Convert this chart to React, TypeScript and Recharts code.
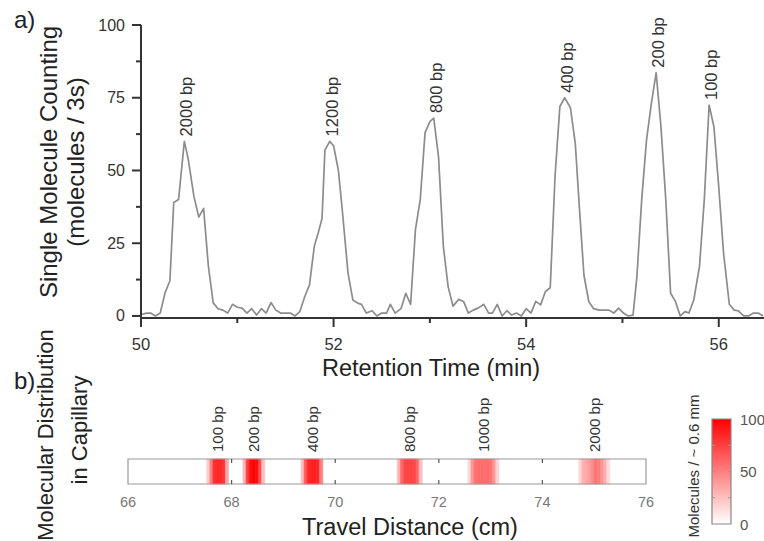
import React from "react";
import {
  LineChart,
  Line,
  XAxis,
  YAxis,
  LabelList,
  ComposedChart,
  ReferenceArea,
  Scatter,
  Bar,
} from "recharts";

const FONT = "'Liberation Sans', Arial, Helvetica, sans-serif";

// a) single molecule counts per 3 s
const retentionTime = [
  50.0, 50.06, 50.1, 50.15, 50.2, 50.25, 50.3, 50.34, 50.39, 50.45,
  50.49, 50.55, 50.6, 50.65, 50.7, 50.75, 50.8, 50.85, 50.9, 50.95,
  51.0, 51.05, 51.1, 51.15, 51.2, 51.25, 51.3, 51.35, 51.4, 51.45,
  51.5, 51.55, 51.6, 51.65, 51.7, 51.75, 51.8, 51.84, 51.88, 51.91,
  51.96, 52.0, 52.05, 52.09, 52.15, 52.2, 52.25, 52.29, 52.34, 52.4,
  52.45, 52.5, 52.55, 52.59, 52.64, 52.7, 52.75, 52.8, 52.85, 52.9,
  52.95, 53.0, 53.04, 53.09, 53.14, 53.19, 53.24, 53.3, 53.35, 53.4,
  53.45, 53.5, 53.56, 53.61, 53.65, 53.7, 53.75, 53.8, 53.85, 53.9,
  53.95, 54.0, 54.05, 54.1, 54.15, 54.2, 54.25, 54.3, 54.35, 54.4,
  54.46, 54.51, 54.55, 54.6, 54.65, 54.7, 54.76, 54.81, 54.86, 54.91,
  54.96, 55.01, 55.06, 55.11, 55.15, 55.2, 55.25, 55.3, 55.35, 55.4,
  55.45, 55.5, 55.55, 55.6, 55.65, 55.69, 55.74, 55.8, 55.85, 55.9,
  55.95, 56.0, 56.05, 56.11, 56.16, 56.2, 56.26, 56.31, 56.36, 56.41,
  56.46,
];
const moleculeCount = [
  0.5, 1, 1, 0, 1, 8, 12, 39, 40, 60,
  54, 41, 34, 37, 17, 4.5, 2.5, 2, 1, 4,
  3, 2.7, 1, 2.5, 0.3, 2.5, 1, 4.6, 2, 1,
  1, 1, 0, 1.5, 6.6, 10.7, 24, 28.5, 33.5, 57,
  60, 58.5, 50, 36.5, 14.7, 5.5, 4.4, 4, 1, 1.8,
  0, 1, 1, 4, 1, 2.5, 7.8, 4, 29.6, 40,
  63, 66.8, 68, 54.7, 23.8, 10, 3.4, 5.7, 5, 1,
  2, 2.7, 4, 1, 1, 4, 0, 1.8, 0.3, 1,
  0, 2.5, 1, 5, 3.8, 8.4, 9.7, 48, 72, 75,
  71.5, 59.3, 38.7, 14, 5, 2.5, 2, 2, 2, 1,
  2.7, 1, 0, 0.3, 13.5, 40, 60.5, 73, 83.6, 65,
  40, 7.8, 5, 0, 1.5, 1, 5.4, 17, 40, 72.5,
  65, 44.4, 21.6, 4, 2, 1.8, 0, 0, 1, 1,
  0,
];

const peakNames = ["2000 bp", "1200 bp", "800 bp", "400 bp", "200 bp", "100 bp"];
const peakTimes = [50.45, 51.96, 53.04, 54.4, 55.35, 55.9];

const timeTicks = [50, 51, 52, 53, 54, 55, 56];
const timeLabels = [50, 52, 54, 56];
const countTicks = [0, 12.5, 25, 37.5, 50, 62.5, 75, 87.5, 100];
const countLabels = [0, 25, 50, 75, 100];

// b) molecules per ~0.6 mm bin along the capillary
const BIN = 0.06;
const binStart = [
  67.52, 67.58, 67.64, 67.7, 67.76, 67.82, 67.88,
  68.22, 68.28, 68.34, 68.4, 68.46, 68.52, 68.58,
  69.34, 69.4, 69.46, 69.52, 69.58, 69.64, 69.7,
  71.2, 71.26, 71.32, 71.38, 71.44, 71.5, 71.56, 71.62,
  72.56, 72.62, 72.68, 72.74, 72.8, 72.86, 72.92, 72.98, 73.04, 73.1,
  74.7, 74.76, 74.82, 74.88, 74.94, 75.0, 75.06, 75.12, 75.18, 75.24,
];
const binCount = [
  20, 50, 80, 85, 85, 80, 35,
  30, 75, 95, 100, 95, 70, 25,
  25, 65, 85, 88, 88, 85, 50,
  30, 60, 72, 74, 74, 72, 60, 25,
  15, 40, 55, 58, 58, 58, 58, 55, 42, 18,
  15, 30, 35, 38, 45, 55, 52, 42, 32, 15,
];
const bandNames = ["100 bp", "200 bp", "400 bp", "800 bp", "1000 bp", "2000 bp"];
const bandCenters = [67.72, 68.43, 69.57, 71.44, 72.86, 75.0];
const distanceTicks = [66, 68, 70, 72, 74, 76];

// colour scale
const colorRange = [{ name: "scale", max: 100 }];
const colorTicks = [0, 25, 50, 75, 100];
const colorLabels = [0, 50, 100];

const traceRows = retentionTime.map((t, i) => ({
  t,
  count: moleculeCount[i],
  peak: peakNames[peakTimes.indexOf(t)],
}));
const bandRows = bandNames.map((name, i) => ({ x: bandCenters[i], y: 1, name }));

function countColor(v: number) {
  const c = Math.round(255 * (1 - v / 100));
  return `rgb(255,${c},${c})`;
}

const TimeTick = (props: any) => {
  const { x, y, payload } = props;
  const v = payload.value;
  const major = timeLabels.includes(v);
  const axisY = y - 20;
  return (
    <g>
      <line x1={x} x2={x} y1={axisY} y2={axisY + (major ? 9 : 5)} stroke="#333" strokeWidth={2} />
      {major && (
        <text x={x} y={y} dy="0.72em" textAnchor="middle" fontSize={16.5} fill="#333" fontFamily={FONT}>
          {v}
        </text>
      )}
    </g>
  );
};

const CountTick = (props: any) => {
  const { x, y, payload } = props;
  const v = payload.value;
  const major = countLabels.includes(v);
  const axisX = x + 16;
  return (
    <g>
      <line x1={axisX - (major ? 9 : 5)} x2={axisX} y1={y} y2={y} stroke="#333" strokeWidth={2} />
      {major && (
        <text x={x} y={y} textAnchor="end" dominantBaseline="central" fontSize={16} fill="#333" fontFamily={FONT}>
          {v}
        </text>
      )}
    </g>
  );
};

const PeakLabel = (props: any) => {
  const vb = props.viewBox || {};
  const x = props.x ?? vb.x;
  const y = props.y ?? vb.y;
  if (!props.value || x == null || y == null) return null;
  return (
    <text
      transform={`translate(${x + 2},${y - 5}) rotate(-90)`}
      textAnchor="start"
      dominantBaseline="central"
      fontSize={16.5}
      fill="#333"
      fontFamily={FONT}
    >
      {props.value}
    </text>
  );
};

const DistanceTick = (props: any) => {
  const { x, y, payload } = props;
  const v = payload.value;
  const axisY = y - 13;
  const inner = v !== 66 && v !== 76;
  return (
    <g>
      {inner && <line x1={x} x2={x} y1={axisY - 25} y2={axisY - 21} stroke="#555" strokeWidth={1.2} />}
      {inner && <line x1={x} x2={x} y1={axisY - 4} y2={axisY} stroke="#555" strokeWidth={1.2} />}
      <text x={x} y={y} dy="0.72em" textAnchor="middle" fontSize={14.5} fill="#777" fontFamily={FONT}>
        {v}
      </text>
    </g>
  );
};

const ColorTick = (props: any) => {
  const { x, y, payload } = props;
  const v = payload.value;
  const axisX = x - 9;
  const left = axisX - 19;
  const inner = v !== 0 && v !== 100;
  return (
    <g>
      {inner && <line x1={left} x2={left + 3} y1={y} y2={y} stroke="#999" />}
      {inner && <line x1={axisX - 3} x2={axisX} y1={y} y2={y} stroke="#999" />}
      {colorLabels.includes(v) && (
        <text x={x} y={y} textAnchor="start" dominantBaseline="central" fontSize={15} fill="#555" fontFamily={FONT}>
          {v}
        </text>
      )}
    </g>
  );
};

const BandLabel = (props: any) => {
  const { cx, cy, payload } = props;
  return (
    <text
      transform={`translate(${cx},${cy - 7}) rotate(-90)`}
      textAnchor="start"
      dominantBaseline="central"
      fontSize={15}
      fill="#333"
      fontFamily={FONT}
    >
      {payload.name}
    </text>
  );
};

export default function App() {
  return (
    <div
      style={{
        position: "absolute",
        left: 0,
        top: 0,
        width: 764,
        height: 541,
        background: "#fff",
        fontFamily: FONT,
        overflow: "hidden",
      }}
    >
      <div style={{ position: "absolute", left: 0, top: 0 }}>
        <LineChart width={764} height={395} data={traceRows} margin={{ top: 25, right: 0, left: 0, bottom: 0 }}>
          <XAxis
            dataKey="t"
            type="number"
            domain={[50, 56.47]}
            ticks={timeTicks}
            interval={0}
            height={77}
            tickSize={9}
            tickMargin={11}
            tickLine={false}
            axisLine={{ stroke: "#333", strokeWidth: 2 }}
            tick={TimeTick}
            label={{
              content: () => (
                <text x={431} y={376} textAnchor="middle" fontSize={23.5} fill="#222" fontFamily={FONT}>
                  Retention Time (min)
                </text>
              ),
            }}
          />
          <YAxis
            type="number"
            domain={[-0.7, 100]}
            ticks={countTicks}
            interval={0}
            width={141}
            tickSize={9}
            tickMargin={7}
            tickLine={false}
            axisLine={{ stroke: "#333", strokeWidth: 2 }}
            tick={CountTick}
            label={{
              content: () => (
                <g fontFamily={FONT} fill="#222" fontSize={24}>
                  <text transform="translate(48,162) rotate(-90)" textAnchor="middle" dominantBaseline="central">
                    Single Molecule Counting
                  </text>
                  <text transform="translate(75,162) rotate(-90)" textAnchor="middle" dominantBaseline="central">
                    (molecules / 3s)
                  </text>
                </g>
              ),
            }}
          />
          <Line
            dataKey="count"
            type="linear"
            stroke="#8c8c8c"
            strokeWidth={1.7}
            strokeLinejoin="round"
            dot={false}
            isAnimationActive={false}
          >
            <LabelList dataKey="peak" content={PeakLabel} />
          </Line>
        </LineChart>
      </div>

      <div style={{ position: "absolute", left: 0, top: 390 }}>
        <ComposedChart width={660} height={151} data={bandRows} margin={{ top: 69, right: 14, left: 128, bottom: 0 }}>
          <XAxis
            dataKey="x"
            type="number"
            domain={[66, 76]}
            ticks={distanceTicks}
            interval={0}
            height={57}
            tickSize={0}
            tickMargin={13}
            tickLine={false}
            axisLine={false}
            tick={DistanceTick}
            label={{
              content: () => (
                <text x={410} y={145} textAnchor="middle" fontSize={23.5} fill="#222" fontFamily={FONT}>
                  Travel Distance (cm)
                </text>
              ),
            }}
          />
          <YAxis type="number" dataKey="y" domain={[0, 1]} hide />
          {binStart.map((s, i) => (
            <ReferenceArea
              key={s}
              x1={s}
              x2={s + BIN}
              y1={0}
              y2={1}
              fill={countColor(binCount[i])}
              fillOpacity={1}
              stroke={countColor(binCount[i])}
              strokeWidth={0.6}
            />
          ))}
          <ReferenceArea x1={66} x2={76} y1={0} y2={1} fill="none" stroke="#999" strokeWidth={1.2} />
          <Scatter dataKey="y" shape={BandLabel} isAnimationActive={false} />
        </ComposedChart>
      </div>

      <div style={{ position: "absolute", left: 690, top: 400 }}>
        <ComposedChart
          width={74}
          height={141}
          data={colorRange}
          barCategoryGap={0}
          margin={{ top: 19, right: 3, left: 22, bottom: 17 }}
        >
          <defs>
            <linearGradient id="cbar" x1="0" y1="1" x2="0" y2="0">
              <stop offset="0" stopColor="#ffffff" />
              <stop offset="1" stopColor="#ff0000" />
            </linearGradient>
          </defs>
          <XAxis dataKey="name" type="category" hide />
          <YAxis
            orientation="right"
            type="number"
            domain={[0, 100]}
            ticks={colorTicks}
            interval={0}
            width={30}
            tickSize={0}
            tickMargin={9}
            tickLine={false}
            axisLine={false}
            tick={ColorTick}
          />
          <Bar dataKey="max" fill="url(#cbar)" stroke="#888" strokeWidth={1.2} isAnimationActive={false} />
        </ComposedChart>
      </div>

      <svg
        width={764}
        height={541}
        style={{ position: "absolute", left: 0, top: 0, pointerEvents: "none" }}
        fontFamily={FONT}
      >
        <text x={14} y={28} fontSize={24} fill="#222">a)</text>
        <text x={14} y={389} fontSize={24} fill="#222">b)</text>
        <text transform="translate(45,435) rotate(-90)" textAnchor="middle" dominantBaseline="central" fontSize={22} fill="#222">
          Molecular Distribution
        </text>
        <text transform="translate(79,430) rotate(-90)" textAnchor="middle" dominantBaseline="central" fontSize={22} fill="#222">
          in Capillary
        </text>
        <text transform="translate(693,466) rotate(-90)" textAnchor="middle" dominantBaseline="central" fontSize={15} fill="#333">
          Molecules / ~ 0.6 mm
        </text>
      </svg>
    </div>
  );
}
